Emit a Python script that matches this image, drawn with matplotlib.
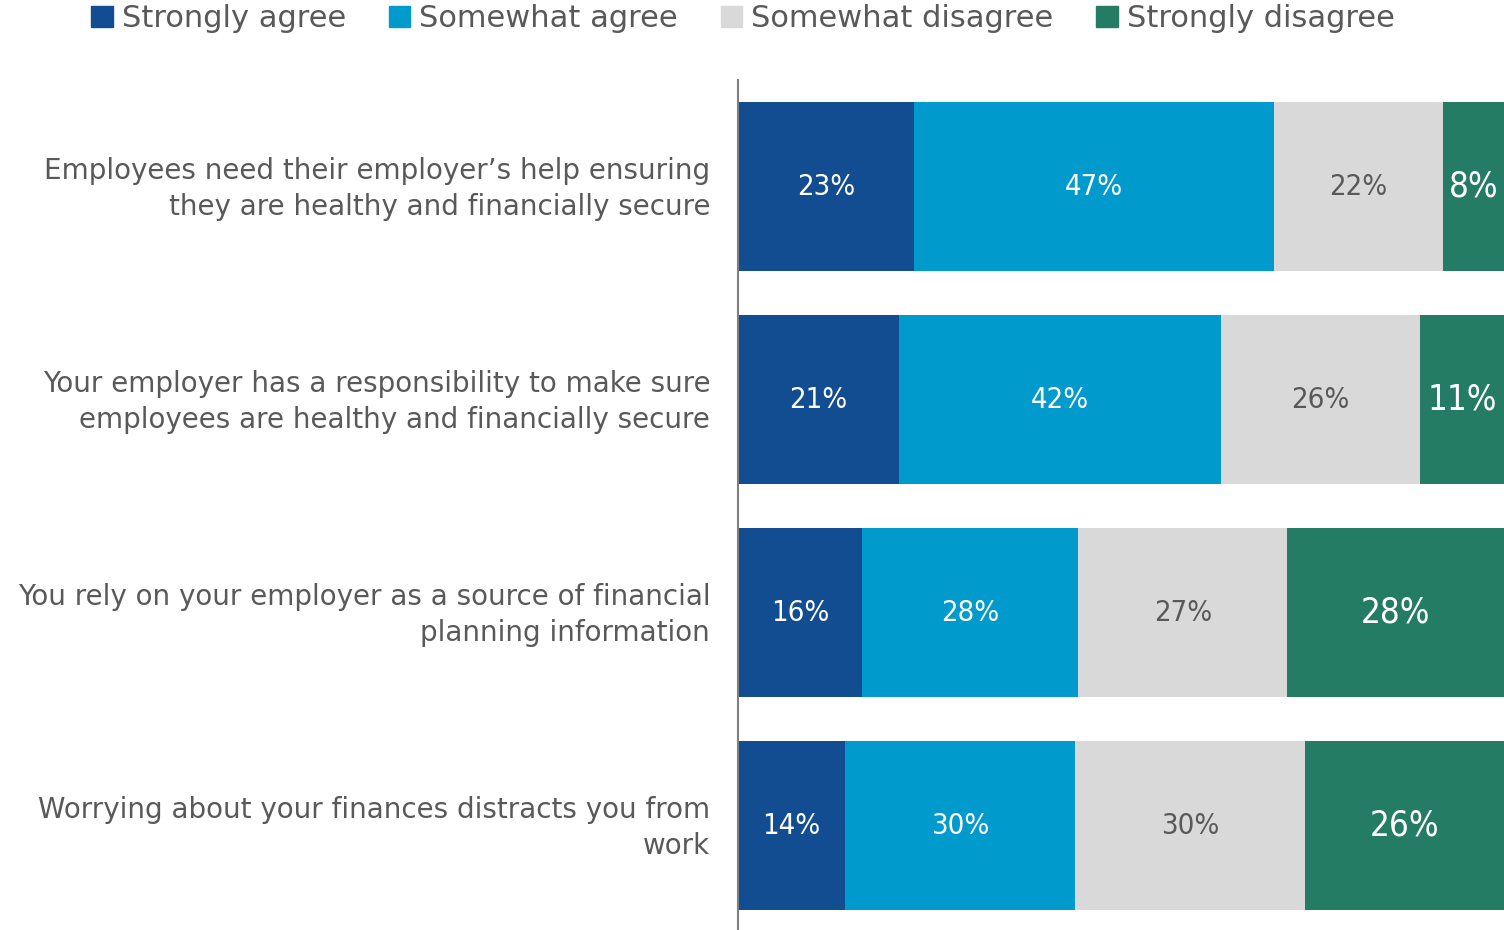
import numpy as np
import matplotlib
matplotlib.use('Agg')
import matplotlib.pyplot as plt
import matplotlib.transforms as mtransforms
from matplotlib.patches import Patch

# survey statements (top to bottom)
statements = [
    "Employees need their employer\u2019s help ensuring\nthey are healthy and financially secure",
    "Your employer has a responsibility to make sure\nemployees are healthy and financially secure",
    "You rely on your employer as a source of financial\nplanning information",
    "Worrying about your finances distracts you from\nwork",
]
series_names = ["Strongly agree", "Somewhat agree", "Somewhat disagree", "Strongly disagree"]
strongly_agree = [23, 21, 16, 14]
somewhat_agree = [47, 42, 28, 30]
somewhat_disagree = [22, 26, 27, 30]
strongly_disagree = [8, 11, 28, 26]

colors = ["#134D91", "#009ACD", "#D9D9D9", "#247C64"]
label_colors = ["white", "white", "#595959", "white"]
label_sizes = [21, 21, 21, 25]
text_col = "#595959"

plt.rcParams['font.family'] = ['DejaVu Sans']

data = np.array([strongly_agree, somewhat_agree, somewhat_disagree, strongly_disagree], dtype=float)
# 100% stacked bars
shares = data / data.sum(axis=0) * 100

fig = plt.figure(figsize=(15.04, 9.3), dpi=100)
ax = fig.add_axes([738 / 1504, 0, 1 - 738 / 1504, 1 - 80 / 930])

y = np.arange(len(statements))
left = np.zeros(len(statements))
for i, name in enumerate(series_names):
    bars = ax.barh(y, shares[i], left=left, height=0.793, color=colors[i], label=name)
    for j, b in enumerate(bars):
        ax.text(b.get_x() + b.get_width() / 2, b.get_y() + b.get_height() / 2,
                f"{int(data[i, j])}%", ha='center', va='center',
                color=label_colors[i], fontsize=label_sizes[i], fontstretch='condensed')
    left += shares[i]

ax.set_xlim(0, 100)
ax.set_ylim(3.49, -0.5)
ax.set_xticks([])
ax.set_yticks(y)
ax.set_yticklabels(statements, fontsize=20, color=text_col, linespacing=1.38)
ax.tick_params(axis='y', length=0, pad=20)
# nudge the statement labels up a little
shift = mtransforms.ScaledTranslation(0, 5 / 100, fig.dpi_scale_trans)
for lab in ax.get_yticklabels():
    lab.set_transform(lab.get_transform() + shift)
for s in ['top', 'right', 'bottom']:
    ax.spines[s].set_visible(False)
ax.spines['left'].set_color('#7f7f7f')
ax.spines['left'].set_linewidth(1.5)

handles = [Patch(color=c) for c in colors]
fig.legend(handles, series_names, loc='upper center', bbox_to_anchor=(0.494, 1.025),
           ncol=4, frameon=False, fontsize=22, labelcolor=text_col,
           handlelength=0.7, handleheight=0.7, handletextpad=0.3, columnspacing=1.4)

fig.savefig("out.png", dpi=100)
